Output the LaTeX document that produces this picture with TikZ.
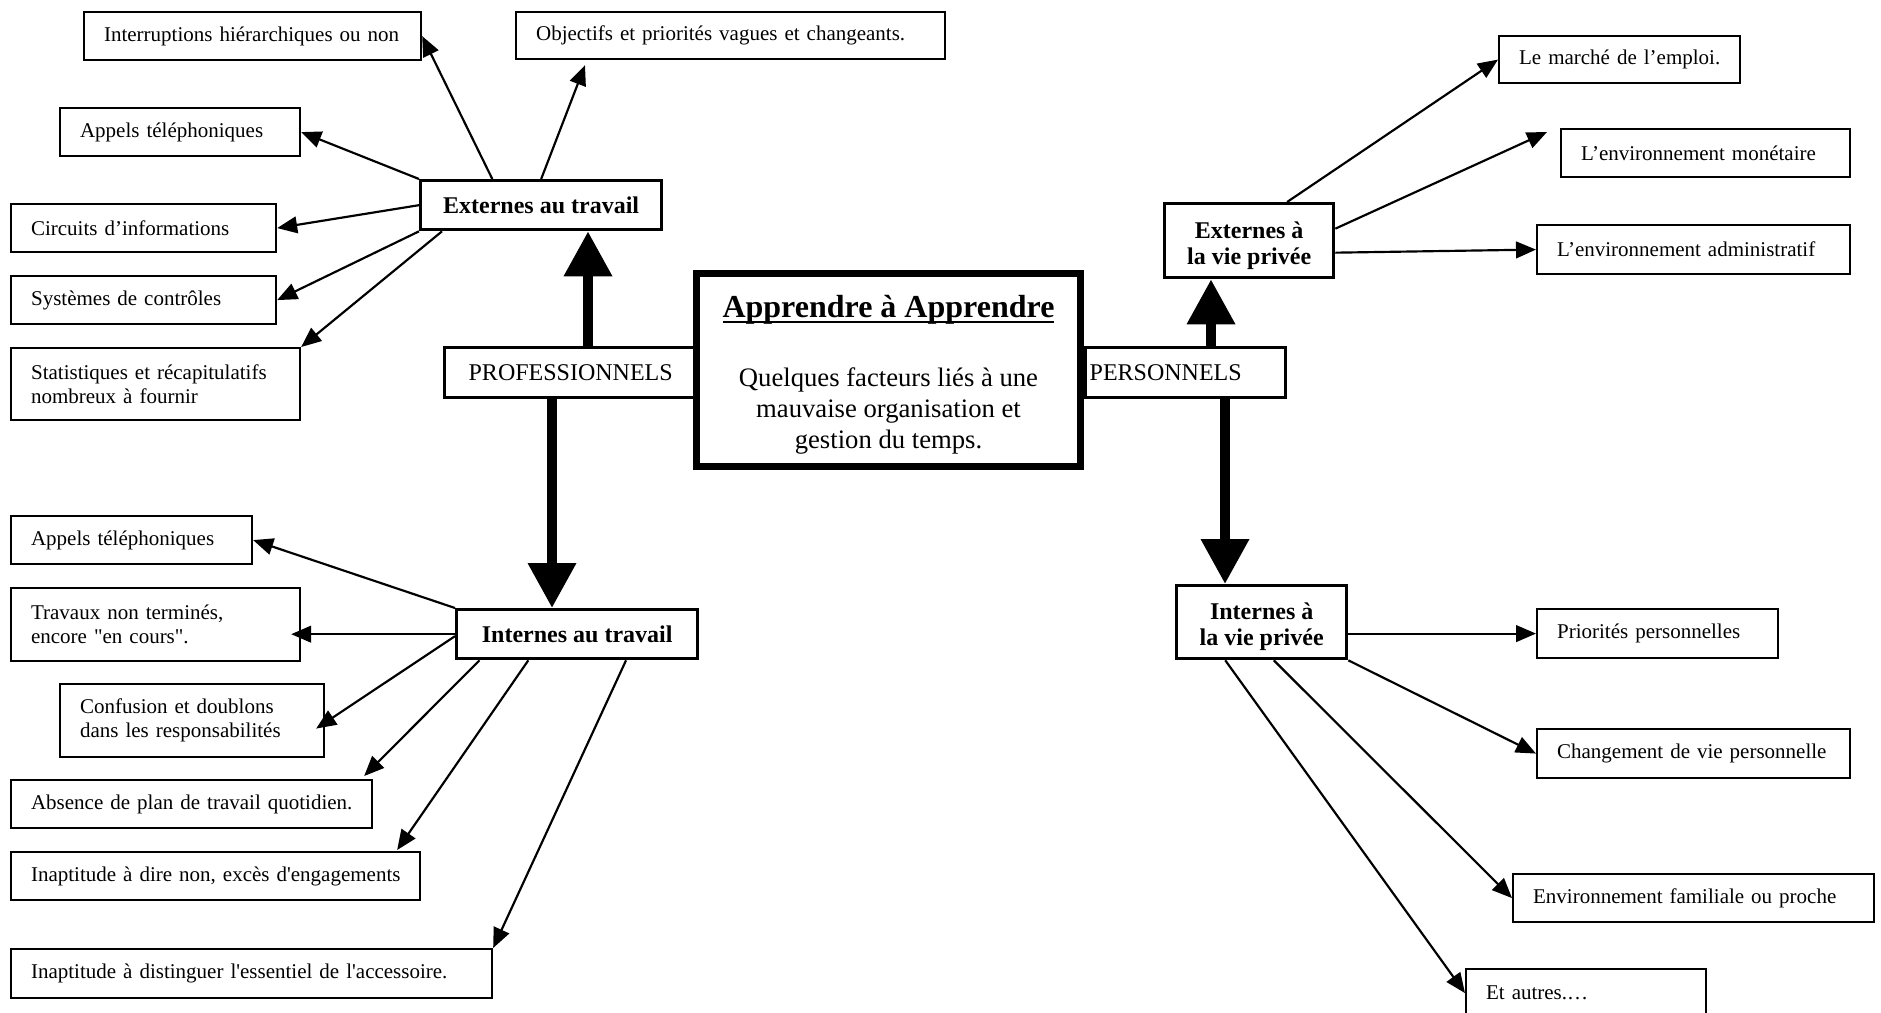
\documentclass[tikz,border=0pt]{standalone}
\usepackage{fontspec}
\setmainfont{Liberation Serif}
\usetikzlibrary{arrows.meta,calc,positioning}

\newcommand{\soulign}[1]{\setbox0=\hbox{#1}\rlap{\rule[-3.2pt]{\wd0}{1.3pt}}\box0}

\begin{document}
\begin{tikzpicture}[
	x=0.6pt, y=-0.6pt,
	>={Triangle[width=10pt,length=12pt]},
	fact/.style={draw, line width=1.3pt, anchor=north west, inner xsep=12pt, inner ysep=1pt,
		align=left, font=\fontsize{12.6}{14.4}\selectfont},
	cat/.style={draw, line width=2pt, anchor=north west, align=center, inner sep=1pt,
		font=\fontsize{14.4}{15.6}\selectfont\bfseries},
	branche/.style={draw, line width=2pt, anchor=north west, inner sep=2.4pt,
		font=\fontsize{14.4}{16}\selectfont},
	link/.style={->, line width=1.3pt},
	bigarrow/.style={line width=6pt, -{Triangle[width=27.6pt,length=27pt]}}
  ]

  \useasboundingbox (0,0) rectangle (1881,1012);

  % travail, externes
  \node[fact, text width=178.2pt, minimum height=28.8pt] (interr) at (83,11) {\mbox{Interruptions hiérarchiques ou non}};
  \node[fact, text width=233.4pt, minimum height=28.2pt] (objec) at (515,11) {Objectifs et priorités vagues et changeants.};
  \node[fact, text width=120pt, minimum height=28.8pt] (appel1) at (59,107) {Appels téléphoniques};
  \node[fact, text width=135pt, minimum height=28.8pt] (circ) at (10,203) {Circuits d’informations};
  \node[fact, text width=135pt, minimum height=28.8pt] (syst) at (10,275) {Systèmes de contrôles};
  \node[fact, text width=149.4pt, minimum height=43.2pt] (stat) at (10,347) {Statistiques et récapitulatifs\\nombreux à fournir};

  % travail, internes
  \node[fact, text width=120.6pt, minimum height=28.8pt] (appel2) at (10,515) {Appels téléphoniques};
  \node[fact, text width=149.4pt, minimum height=43.8pt] (trav) at (10,587) {Travaux non terminés,\\encore \textquotedbl en cours\textquotedbl.};
  \node[fact, text width=134.4pt, minimum height=43.8pt] (conf) at (59,683) {Confusion et doublons\\dans les responsabilités};
  \node[fact, text width=192.6pt, minimum height=28.8pt] (absen) at (10,779) {\mbox{Absence de plan de travail quotidien.}};
  \node[fact, text width=221.4pt, minimum height=28.8pt] (dire) at (10,851) {\mbox{Inaptitude à dire non, excès d\textquotesingle engagements}};
  \node[fact, text width=264.6pt, minimum height=29.4pt] (disting) at (10,948) {Inaptitude à distinguer l\textquotesingle essentiel de l\textquotesingle accessoire.};

  % vie privee, externes
  \node[fact, text width=120.6pt, minimum height=28.2pt] (marche) at (1498,35) {\mbox{Le marché de l’emploi.}};
  \node[fact, text width=149.4pt, minimum height=28.8pt] (monet) at (1560,128) {L’environnement monétaire};
  \node[fact, text width=163.8pt, minimum height=29.4pt] (admin) at (1536,224) {\mbox{L’environnement administratif}};

  % vie privee, internes
  \node[fact, text width=120.6pt, minimum height=29.4pt] (prio) at (1536,608) {Priorités personnelles};
  \node[fact, text width=163.8pt, minimum height=29.4pt] (chang) at (1536,728) {\mbox{Changement de vie personnelle}};
  \node[fact, text width=192.6pt, minimum height=28.8pt] (famil) at (1512,873) {\mbox{Environnement familiale ou proche}};
  \node[fact, text width=120pt, minimum height=28.8pt] (autres) at (1465,968) {Et autres.…};

  \node[cat, minimum width=144.6pt, minimum height=29.4pt] (extrav) at (419,179) {Externes au travail};
  \node[cat, minimum width=144.6pt, minimum height=29.4pt] (inttrav) at (455,608) {Internes au travail};
  \node[cat, minimum width=101.4pt, minimum height=44.4pt] (extvie) at (1163,202) {\rule{0pt}{16.5pt}Externes à\\la vie privée};
  \node[cat, minimum width=102pt, minimum height=43.8pt] (intvie) at (1175,584) {\rule{0pt}{16pt}Internes à\\la vie privée};

  \node[branche, minimum width=151.2pt, minimum height=30pt] (prof) at (443,346) {PROFESSIONNELS};
  \node[branche, text width=115.2pt, align=left, minimum height=30pt] (pers) at (1084,346) {PERSONNELS};

  \node[draw, line width=4.2pt, fill=white, minimum width=230.4pt, minimum height=115.8pt,
	align=center, font=\fontsize{16}{18.6}\selectfont] (centre) at (888.5,370)
	{\rule{0pt}{19pt}{\fontsize{19.2}{21}\selectfont\bfseries\soulign{Apprendre à Apprendre}}\\[22.6pt]
	 Quelques facteurs liés à une\\mauvaise organisation et\\gestion du temps.};

  \coordinate (pu) at ($(prof.north west)+(145,0)$);
  \coordinate (pd) at ($(prof.south west)+(109,0)$);
  \coordinate (su) at ($(pers.north west)+(127,0)$);
  \coordinate (sd) at ($(pers.south west)+(141,0)$);

  \draw[bigarrow] (pu) -- (pu |- extrav.south);
  \draw[bigarrow] (pd) -- (pd |- inttrav.north);
  \draw[bigarrow] (su) -- (su |- extvie.south);
  \draw[bigarrow] (sd) -- (sd |- intvie.north);

  \path[link] ($(extrav.north west)!0.3!(extrav.north east)$) edge (interr.east)
	(extrav.north) edge ($(objec.south west)+(70,5)$)
	(extrav.north west) edge (appel1.east)
	(extrav.west) edge (circ.east)
	(extrav.south west) edge (syst.east)
	($(extrav.south west)+(23,0)$) edge (stat.north east);

  \path[link] (inttrav.north west) edge (appel2.east)
	(inttrav.west) edge ($(inttrav.west -| trav.east)+(-10,0)$)
	($(inttrav.west)+(0,2)$) edge ($(conf.east)+(-9,8)$)
	($(inttrav.south west)!0.1!(inttrav.south east)$) edge ($(absen.north east)+(-9,-3)$)
	($(inttrav.south west)!0.3!(inttrav.south east)$) edge ($(dire.north east)+(-24,-1)$)
	($(inttrav.south west)!0.7!(inttrav.south east)$) edge (disting.north east);

  \path[link] ($(extvie.north west)!0.72!(extvie.north east)$) edge (marche.west)
	($(extvie.east)+(0,-12)$) edge ($(monet.north west)+(-13,4)$)
	($(extvie.east)+(0,12)$) edge (admin.west);

  \path[link] (intvie.east |- prio.west) edge (prio.west)
	(intvie.south east) edge (chang.west)
	($(intvie.south west)!0.57!(intvie.south east)$) edge (famil.west)
	($(intvie.south west)!0.29!(intvie.south east)$) edge (autres.west);

\end{tikzpicture}
\end{document}
